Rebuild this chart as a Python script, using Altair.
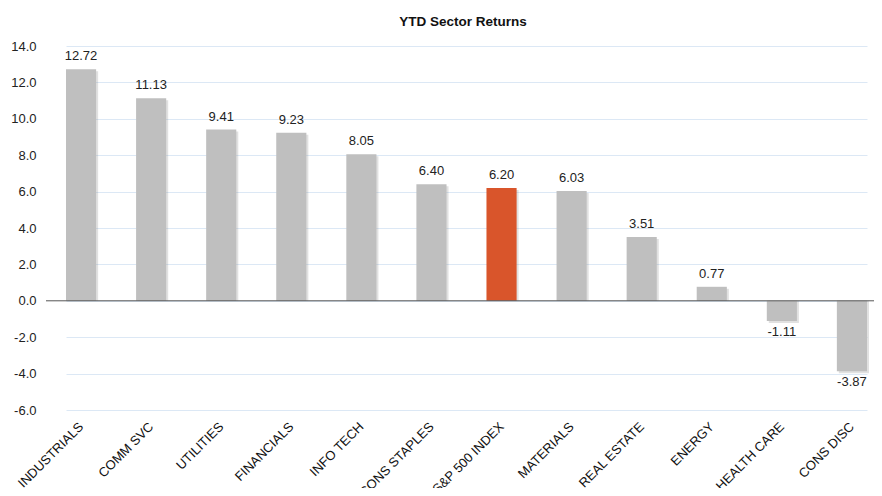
import altair as alt
import pandas as pd

sectors = ["INDUSTRIALS", "COMM SVC", "UTILITIES", "FINANCIALS", "INFO TECH",
           "CONS STAPLES", "S&P 500 INDEX", "MATERIALS", "REAL ESTATE", "ENERGY",
           "HEALTH CARE", "CONS DISC"]
returns = [12.72, 11.13, 9.41, 9.23, 8.05, 6.40, 6.20, 6.03, 3.51, 0.77, -1.11, -3.87]
highlight = "S&P 500 INDEX"
y_ticks = [-6, -4, -2, 0, 2, 4, 6, 8, 10, 12, 14]

df = pd.DataFrame({"sector": sectors, "ret": returns})
df["label"] = df["ret"].map(lambda v: f"{v:.2f}")
df["kind"] = ["index" if s == highlight else "sector" for s in sectors]

FONT = "Liberation Sans"

x_scale = alt.Scale(paddingInner=0.57, paddingOuter=0, range=[20, 821])
x_enc = alt.X("sector:N", sort=None, title=None, scale=x_scale,
              axis=alt.Axis(labelAngle=-45, labelFontSize=13, labelColor="#111",
                            labelFont=FONT, ticks=False, domain=False, labelPadding=10,
                            labelOffset=-4,
                            labelAlign="right", labelBaseline="top", labelOverlap=False,
                            labelBound=False))
y_scale = alt.Scale(domain=[-6, 14], nice=False, zero=False)
y_enc = alt.Y("ret:Q", scale=y_scale, title=None,
              axis=alt.Axis(values=y_ticks,
                            labelExpr="datum.value < 0 ? '-' + format(-datum.value, '.1f') : format(datum.value, '.1f')",
                            labelFontSize=13,
                            labelColor="#222", labelFont=FONT, ticks=False,
                            domain=False, labelPadding=10, grid=True,
                            labelOverlap=False, labelFlush=False,
                            gridColor="#dce8f5", gridWidth=1))

base = alt.Chart(df)

shadow = base.mark_bar(color="#888888", opacity=0.25, xOffset=2, yOffset=2).encode(
    x=x_enc, y=y_enc, y2=alt.datum(0))

bars = base.mark_bar().encode(
    x=x_enc, y=y_enc, y2=alt.datum(0),
    color=alt.Color("kind:N", scale=alt.Scale(domain=["sector", "index"],
                                              range=["#BFBFBF", "#D9552B"]),
                    legend=None))

zero = alt.Chart(pd.DataFrame({"ret": [0]})).mark_rule(color="#555555", strokeWidth=1).encode(
    y=y_enc)

pos_text = base.transform_filter("datum.ret >= 0").mark_text(
    baseline="bottom", dy=-6, fontSize=13, font=FONT, color="#222").encode(
    x=x_enc, y=y_enc, text="label:N")

neg_text = base.transform_filter("datum.ret < 0").mark_text(
    baseline="top", dy=5, fontSize=13, font=FONT, color="#222").encode(
    x=x_enc, y=y_enc, text="label:N")

chart = alt.layer(shadow, bars, zero, pos_text, neg_text).resolve_scale(
    x="shared", y="shared").properties(
    width=828, height=364,
    title=alt.TitleParams("YTD Sector Returns", fontSize=13.5, fontWeight="bold",
                          font=FONT, color="#111", offset=12, dx=3),
    autosize=alt.AutoSizeParams(type="none"),
    padding={"left": 38, "top": 38, "right": 0, "bottom": 78},
).configure_view(stroke=None)

chart.save("out.html", embed_options={"renderer": "svg", "actions": False})
